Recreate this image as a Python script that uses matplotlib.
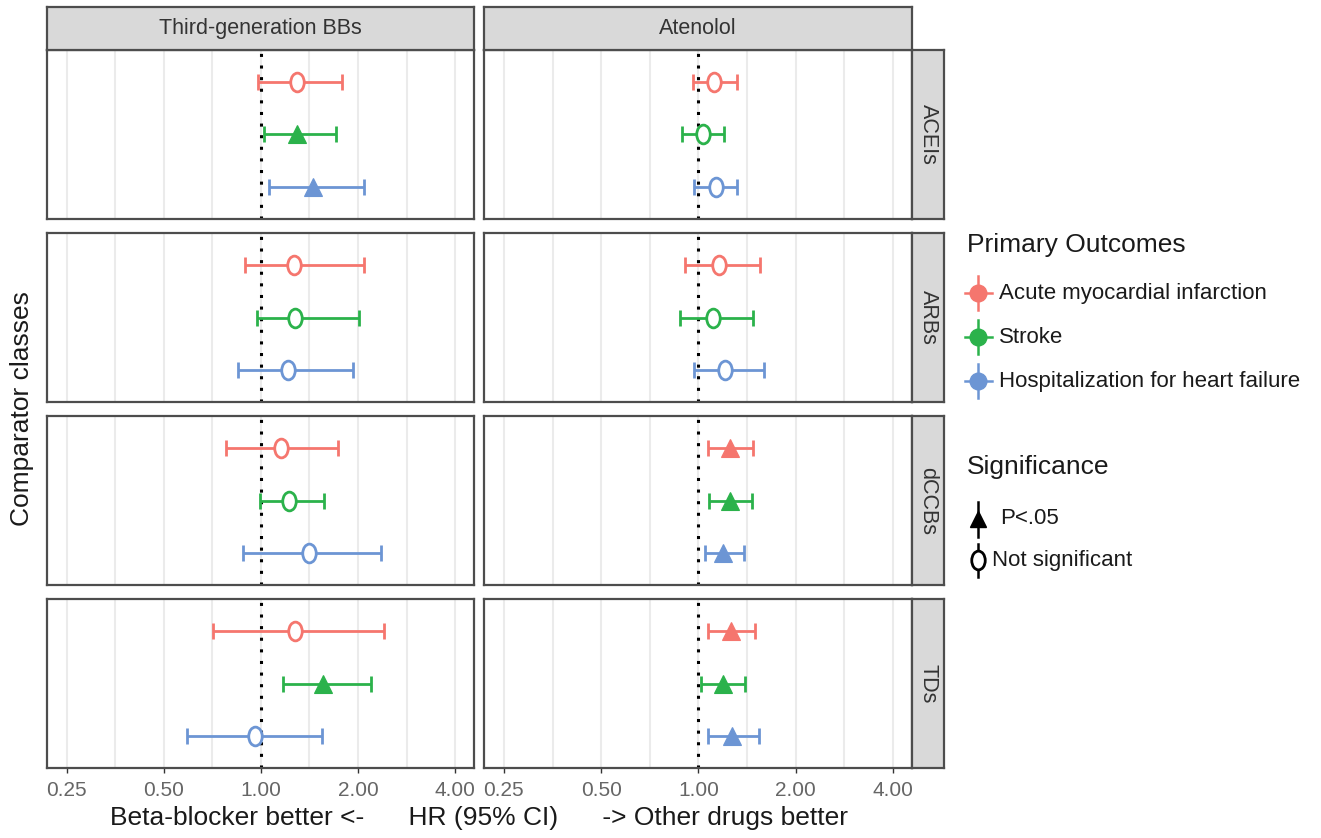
import numpy as np
import matplotlib
matplotlib.use("Agg")
import matplotlib.pyplot as plt
from matplotlib.path import Path
from matplotlib.transforms import Affine2D
from matplotlib.ticker import NullFormatter

plt.rcParams['font.family'] = ['Liberation Sans', 'DejaVu Sans']

# facets and outcomes
drugs = ["Third-generation BBs", "Atenolol"]
classes = ["ACEIs", "ARBs", "dCCBs", "TDs"]
outcomes = ["Acute myocardial infarction", "Stroke", "Hospitalization for heart failure"]
colors = ["#F5766E", "#2BB24B", "#6C95D4"]

# hazard ratios, rows = comparator class, cols = outcome
hr_bb3 = [[1.29, 1.29, 1.45], [1.27, 1.28, 1.21], [1.15, 1.22, 1.41], [1.28, 1.56, 0.96]]
lo_bb3 = [[0.98, 1.02, 1.06], [0.89, 0.97, 0.85], [0.78, 0.99, 0.88], [0.71, 1.17, 0.59]]
hi_bb3 = [[1.79, 1.71, 2.09], [2.09, 2.02, 1.93], [1.73, 1.57, 2.35], [2.41, 2.20, 1.55]]
sig_bb3 = [[0, 1, 1], [0, 0, 0], [0, 0, 0], [0, 1, 0]]

hr_ate = [[1.12, 1.03, 1.13], [1.16, 1.11, 1.21], [1.25, 1.25, 1.19], [1.26, 1.19, 1.27]]
lo_ate = [[0.96, 0.89, 0.97], [0.91, 0.88, 0.97], [1.07, 1.08, 1.05], [1.07, 1.02, 1.07]]
hi_ate = [[1.32, 1.20, 1.32], [1.55, 1.47, 1.59], [1.48, 1.46, 1.38], [1.50, 1.39, 1.54]]
sig_ate = [[0, 0, 0], [0, 0, 0], [1, 1, 1], [1, 1, 1]]

data = {
    "Third-generation BBs": (hr_bb3, lo_bb3, hi_bb3, sig_bb3),
    "Atenolol": (hr_ate, lo_ate, hi_ate, sig_ate),
}

W, H = 1321, 838
fig = plt.figure(figsize=(W / 100, H / 100), dpi=100)


def box(x0, y0, x1, y1):
    return [x0 / W, 1 - y1 / H, (x1 - x0) / W, (y1 - y0) / H]


col_x = [(47, 474), (484, 912)]
row_y = [(50, 219), (233, 402), (416, 585), (599, 768)]
border = '#4D4D4D'

ellipse = Path.unit_circle().transformed(Affine2D().scale(0.72, 1.0))
majors = np.array([0.25, 0.5, 1, 2, 4])
minors = np.sqrt(majors[:-1] * majors[1:])

for j, drug in enumerate(drugs):
    hr, lo, hi, sig = data[drug]
    for i, cls in enumerate(classes):
        x0, x1 = col_x[j]
        y0, y1 = row_y[i]
        ax = fig.add_axes(box(x0, y0, x1, y1))
        ax.set_xscale('log', base=2)
        ax.set_xlim(0.217, 4.58)
        ax.set_ylim(0.4, 3.6)
        ax.set_xticks(majors)
        ax.set_xticks(minors, minor=True)
        ax.xaxis.set_minor_formatter(NullFormatter())
        ax.grid(axis='x', which='both', color='#EBEBEB', lw=1.5)
        ax.set_axisbelow(True)
        ax.axvline(1, color='black', ls=(0, (1, 2.8)), lw=2.2, zorder=2)
        for k in range(3):
            y = 3 - k
            h = hr[i][k]
            c = colors[k]
            ax.errorbar(h, y, xerr=[[h - lo[i][k]], [hi[i][k] - h]], fmt='none',
                        ecolor=c, elinewidth=2.0, capsize=5.5, capthick=2.0, zorder=3)
            if sig[i][k]:
                ax.plot(h, y, marker='^', ms=12.5, color=c, mec=c, mew=0.8, zorder=4)
            else:
                ax.plot(h, y, marker=ellipse, ms=13.5, mfc='white', mec=c, mew=2.0,
                        ls='none', zorder=4)
        ax.set_yticks([])
        if i == len(classes) - 1:
            ax.set_xticklabels(['0.25', '0.50', '1.00', '2.00', '4.00'])
            ax.tick_params(axis='x', which='major', length=3.5, width=1, color='#333333',
                           labelsize=15, labelcolor='#666666', pad=6)
        else:
            ax.tick_params(axis='x', which='major', length=0, labelbottom=False)
        ax.tick_params(axis='x', which='minor', length=0)
        for s in ax.spines.values():
            s.set_color(border)
            s.set_linewidth(1.6)

        # row strip
        if j == len(drugs) - 1:
            sax = fig.add_axes(box(912, y0, 944, y1))
            sax.set_facecolor('#D9D9D9')
            sax.set_xticks([])
            sax.set_yticks([])
            for s in sax.spines.values():
                s.set_color(border)
                s.set_linewidth(1.6)
            sax.text(0.5, 0.5, cls, rotation=-90, ha='center', va='center',
                     fontsize=15.5, color='#333333', transform=sax.transAxes)

    # column strip
    x0, x1 = col_x[j]
    tax = fig.add_axes(box(x0, 7, x1, 50))
    tax.set_facecolor('#D9D9D9')
    tax.set_xticks([])
    tax.set_yticks([])
    for s in tax.spines.values():
        s.set_color(border)
        s.set_linewidth(1.6)
    tax.text(0.5, 0.5, drug, ha='center', va='center', fontsize=15.5,
             color='#333333', transform=tax.transAxes)

fig.text(22 / W, 1 - 409 / H, "Comparator classes", rotation=90, ha='center',
         va='center', fontsize=19, color='#1A1A1A')
fig.text(479 / W, 1 - 818 / H,
         "Beta-blocker better <-      HR (95% CI)      -> Other drugs better",
         ha='center', va='center', fontsize=19, color='#1A1A1A')

# legends
lax = fig.add_axes(box(950, 200, 1321, 600))
lax.set_xlim(950, 1321)
lax.set_ylim(600, 200)
lax.axis('off')

lax.text(967, 245, "Primary Outcomes", fontsize=19, va='center', color='#1A1A1A')
for k, (name, c) in enumerate(zip(outcomes, colors)):
    y = 293 + 44 * k
    lax.plot([965, 992], [y, y], color=c, lw=1.8)
    lax.plot([978, 978], [y - 17, y + 17], color=c, lw=1.8)
    lax.plot(978, y, marker='o', ms=12, color=c)
    lax.text(999, y, name, fontsize=16, va='center', color='#1A1A1A')

lax.text(967, 467, "Significance", fontsize=19, va='center', color='#1A1A1A')
lax.plot([978, 978], [502, 537], color='black', lw=1.8)
lax.plot(978, 519, marker='^', ms=12, color='black')
lax.text(1000, 518, "P<.05", fontsize=16, va='center', color='#1A1A1A')
lax.plot([978, 978], [544, 577], color='black', lw=1.8)
lax.plot(978, 560, marker=ellipse, ms=13.5, mfc='white', mec='black', mew=2.0)
lax.text(992, 560, "Not significant", fontsize=16, va='center', color='#1A1A1A')

fig.savefig("out.png", dpi=100, facecolor='white')
